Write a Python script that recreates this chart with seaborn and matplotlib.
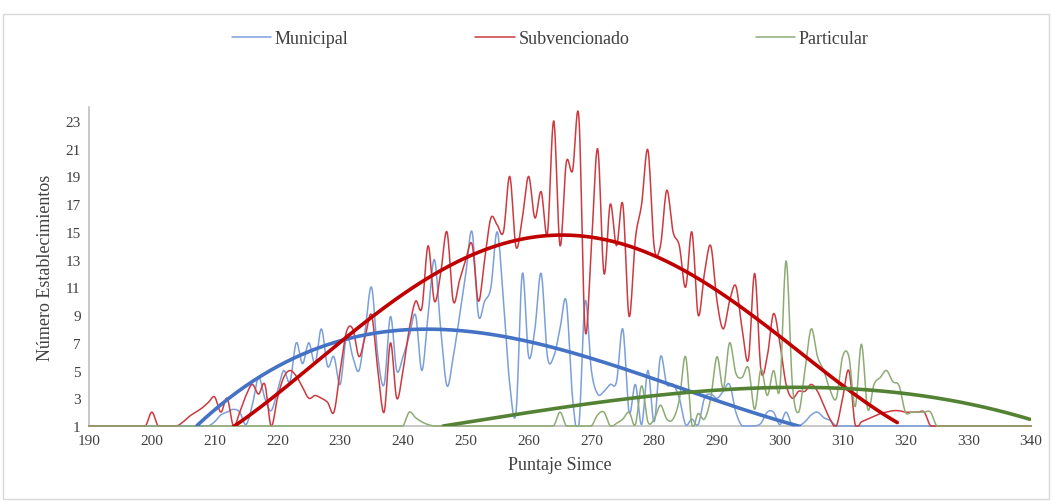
import numpy as np
import pandas as pd
import matplotlib
matplotlib.use("Agg")
import matplotlib.pyplot as plt
import seaborn as sns

# ---------------- data ----------------
scores = list(range(190, 341))

municipal = (
    [1] * 19 +                                   # 190-208
    [1, 1.3, 1.8, 2, 2.2, 2, 1.1, 2.5, 4.5, 3,    # 209-218
     2.1, 3.5, 5, 4.2, 7, 5.5, 7, 5.5, 8, 5.3,    # 219-228
     6, 4, 7.5, 6, 5, 8, 11, 6, 4, 8.9,           # 229-238
     5, 6, 7.5, 9, 5, 9, 13, 8, 3.9, 6,           # 239-248
     8.9, 12, 15, 9, 10, 11, 15, 10, 4, 2,        # 249-258
     12, 6, 8, 12, 6, 6, 8, 10, 3, 1,             # 259-268
     10, 5, 3.3, 3.5, 4, 4.2, 8, 2, 4, 1.1,       # 269-278
     5, 1.3, 6, 4, 4, 3, 1.1, 1.5, 1.1, 3,        # 279-288
     3.3, 3, 3.5, 4, 2, 1, 1, 1, 1.2, 2,          # 289-298
     2, 1.1, 2, 1, 1, 1.3, 1.8, 2, 1.6, 1.4,      # 299-308
     1] + [1] * 31                                # 309-340
)

subvencionado = (
    [1] * 10 +                                   # 190-199
    [2, 1, 1, 1, 1, 1.3, 1.7, 2, 2.3, 2.7,        # 200-209
     3.1, 2, 3, 1, 2, 3.2, 4, 3.3, 4, 1,          # 210-219
     3, 4.5, 5, 4.6, 3.8, 3, 3.2, 3, 2.7, 2,      # 220-229
     5, 7.8, 8, 6, 7.5, 9, 5, 2, 7, 3,            # 230-239
     5, 8, 10, 9.5, 14, 10, 12, 15, 10, 11.5,     # 240-249
     13, 14.1, 10, 13, 16, 15.5, 15, 19, 13.9, 16,  # 250-259
     19, 16, 17.9, 14.9, 23, 14, 20, 19.4, 23.3, 7.9,  # 260-269
     14, 21, 12, 17, 14, 17, 8.9, 14.5, 17, 20.9,  # 270-279
     13.9, 14, 18, 15, 14, 11, 15, 9, 12, 14,     # 280-289
     10, 8, 10, 11.1, 8, 5.8, 12, 5, 6, 9.1,      # 290-299
     7, 4, 3, 3.5, 3.5, 4, 3.5, 2.5, 1.5, 1,      # 300-309
     3, 5, 1.1, 1.3, 1.5, 1.7, 1.9, 2, 2.1, 2.1,  # 310-319
     2, 2, 2, 2, 1] + [1] * 16                    # 320-340
)

particular = (
    [1] * 51 +                                   # 190-240
    [2, 1.6, 1.3, 1.1] + [1] * 20 +              # 241-264
    [2, 1, 1, 1, 1, 1, 1.8, 2, 1, 1.2,           # 265-274
     1.5, 2, 1.1, 3.9, 1.3, 1.5, 2.5, 1.5, 1.5, 2.9,  # 275-284
     6, 1.1, 1.9, 1.5, 3, 6, 3.7, 7, 4.8, 4.5,    # 285-294
     5.2, 2.2, 5.1, 3.2, 5, 3.7, 12.9, 4, 2, 5,   # 295-304
     8, 6, 5, 3.6, 3, 6, 6, 2.4, 6.9, 2.2,        # 305-314
     4, 4.5, 5, 4.2, 3.9, 2, 2, 2, 2, 2,          # 315-324
     1] + [1] * 15                                # 325-340
)

# trend lines
trend_mun_x = [207.2, 217.2, 222, 228.4, 233.6, 239, 244.3, 250.7, 258.6, 266.6, 274.6, 281.4, 290, 298.4, 303.2]
trend_mun_y = [1.0, 4.5, 6.0, 6.8, 7.5, 7.9, 7.9, 7.8, 7.3, 6.3, 5.3, 4.2, 2.7, 1.6, 1.0]
trend_sub_x = [212.9, 222, 230, 236.3, 244.3, 252.3, 258.6, 265, 274.6, 281.4, 290, 298.4, 304.8, 312.8, 318.7]
trend_sub_y = [1.0, 3.9, 7.0, 9.4, 11.8, 13.5, 14.5, 14.8, 14.3, 12.8, 10.7, 8.0, 5.8, 3.2, 1.1]
trend_par_x = [246.4, 250.7, 258.6, 266.6, 274.6, 281.4, 290, 298.4, 307.5, 316, 324, 331.9, 339.8]
trend_par_y = [1.0, 1.3, 1.9, 2.4, 2.9, 3.3, 3.5, 3.8, 3.8, 3.5, 3.1, 2.4, 1.5]

series_names = ["Municipal", "Subvencionado", "Particular"]
x_ticks = list(range(190, 341, 10))
y_ticks = list(range(1, 24, 2))

# ---------------- helpers ----------------
def smooth(x, y, n=12):
    """Catmull-Rom rendering of a smoothed line through the points."""
    x = np.asarray(x, float)
    y = np.asarray(y, float)
    px = np.concatenate([[2 * x[0] - x[1]], x, [2 * x[-1] - x[-2]]])
    py = np.concatenate([[y[0]], y, [y[-1]]])
    xs, ys = [], []
    t = np.linspace(0, 1, n, endpoint=False)
    for i in range(1, len(px) - 2):
        p0, p1, p2, p3 = py[i - 1], py[i], py[i + 1], py[i + 2]
        q0, q1, q2, q3 = px[i - 1], px[i], px[i + 1], px[i + 2]
        def cr(a0, a1, a2, a3):
            return 0.5 * ((2 * a1) + (-a0 + a2) * t +
                          (2 * a0 - 5 * a1 + 4 * a2 - a3) * t ** 2 +
                          (-a0 + 3 * a1 - 3 * a2 + a3) * t ** 3)
        xs.append(cr(q0, q1, q2, q3))
        ys.append(cr(p0, p1, p2, p3))
    xs.append([x[-1]])
    ys.append([y[-1]])
    return np.concatenate(xs), np.maximum(np.concatenate(ys), 1.0)

def trend(xp, yp, deg=4):
    c = np.polyfit(xp, yp, deg)
    xx = np.linspace(min(xp), max(xp), 300)
    return xx, np.polyval(c, xx)

# ---------------- figure ----------------
sns.set_theme(style="white")
plt.rcParams["font.family"] = ["Liberation Serif", "DejaVu Serif"]

fig = plt.figure(figsize=(10.52, 5.02), dpi=100)
ax = fig.add_axes([89 / 1052, 1 - 427 / 502, (1031 - 89) / 1052, (427 - 108) / 502])

thin_colors = ["#7b9fd9", "#cc3a40", "#8eab74"]
thick_colors = ["#4472c4", "#c00000", "#548235"]
data_list = [municipal, subvencionado, particular]
trends = [(trend_mun_x, trend_mun_y, 4), (trend_sub_x, trend_sub_y, 4), (trend_par_x, trend_par_y, 3)]

for name, vals, col in zip(series_names, data_list, thin_colors):
    sx, sy = smooth(scores, vals)
    df = pd.DataFrame({"x": sx, "y": sy})
    sns.lineplot(data=df, x="x", y="y", ax=ax, color=col, linewidth=1.1,
                 estimator=None, sort=False, label=name, zorder=3, clip_on=False)

for (tx, ty, dg), col in zip(trends, thick_colors):
    xx, yy = trend(tx, ty, dg)
    df = pd.DataFrame({"x": xx, "y": yy})
    sns.lineplot(data=df, x="x", y="y", ax=ax, color=col, linewidth=2.6,
                 estimator=None, sort=False, zorder=4)

ax.set_xlim(190, 340)
ax.set_ylim(1, 24)
ax.set_xticks(x_ticks)
ax.set_yticks(y_ticks)
ax.tick_params(axis="both", labelsize=11, colors="#404040", length=0, pad=6)
ax.set_xlabel("Puntaje Simce", fontsize=13, color="#404040", labelpad=6)
ax.set_ylabel("Número Establecimientos", fontsize=13, color="#404040", labelpad=8)

for side in ["top", "right"]:
    ax.spines[side].set_visible(False)
for side in ["left", "bottom"]:
    ax.spines[side].set_color("#bfbfbf")
    ax.spines[side].set_linewidth(1.2)

handles, labels = ax.get_legend_handles_labels()
ax.legend_.remove()
leg = fig.legend(handles[:3], labels[:3], loc="center", bbox_to_anchor=(0.523, 1 - 40 / 502),
                 ncol=3, frameon=False, fontsize=13, handlelength=2.2, handletextpad=0.2,
                 columnspacing=7.0, labelcolor="#404040")

fig.patches.append(plt.Rectangle((0.003, 0.003), 0.994, 0.967, transform=fig.transFigure,
                                 fill=False, edgecolor="#d9d9d9", linewidth=1))

fig.savefig("out.png", dpi=100)
